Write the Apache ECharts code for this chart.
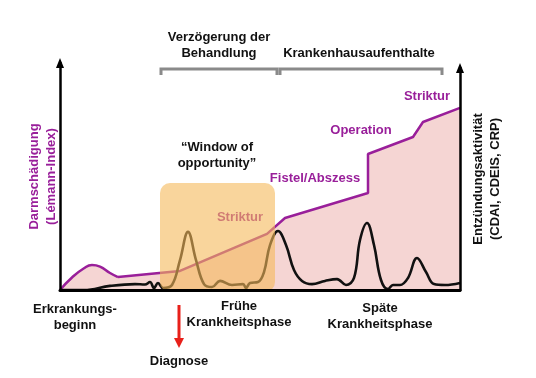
<!DOCTYPE html>
<html>
<head>
<meta charset="utf-8">
<script src="https://cdn.jsdelivr.net/npm/echarts@6/dist/echarts.min.js"></script>
<style>
  html, body { margin: 0; background: #fff; }
  #main { width: 536px; height: 378px; }
</style>
</head>
<body>
<div id="main"></div>
<script>
// Schrift / Farben
const FONT = '"Liberation Sans", Arial, sans-serif';
const PURPLE = '#991f9a';
const PINK = '#f5d5d3';

// Darmschädigung (Lémann-Index), Anfangsbuckel (geglättet)
const damageOnset = [[0, 0], [3, 5.5], [6, 9.6], [8, 11], [10, 10.3], [12.5, 7.5], [14.5, 5.7]];
// Darmschädigung, weiterer Verlauf (gerade Abschnitte)
const damageCourse = [[14.5, 5.7], [30, 8.4], [51.75, 24.7], [56.25, 31.7], [77, 42.7], [77, 59.9], [88.25, 67.4], [90.75, 74], [100, 80.2]];
// Entzündungsaktivität
const activity = [
  [0, 0], [6, 0], [12.5, 1.8], [18.75, 2.6], [21.25, 2.4], [22.5, 3.5], [23.5, 0.9], [24.5, 3.1],
  [25.75, 0.9], [28, 2.2], [30, 13.2], [32, 25.6], [34, 13.2], [36, 2.6], [38, 1.3], [40, 4.0],
  [43, 2.2], [45.75, 2.6], [46.5, 0.9], [47.5, 3.1], [49.5, 3.5], [51, 7.9], [52.5, 19.8],
  [54.5, 26], [56.5, 19.8], [58.5, 8.8], [60.5, 4.0], [63, 2.6], [66.25, 4.0], [69.25, 4.8],
  [71.5, 2.2], [73.5, 5.3], [75, 22], [76.75, 29.5], [78.5, 19.8], [80.25, 4.4], [82, 0.4],
  [83.25, 2.2], [85, 2.2], [87, 5.3], [89.25, 14.1], [91.5, 7.9], [93.5, 2.6], [96.25, 2.2], [100, 3.1]
];
// "Window of opportunity": x von, x bis, Höhe
const windowBox = [25, 53.75, 47.1];

const myChart = echarts.init(document.getElementById('main'));

const hiddenY = {
  min: 0, max: 100,
  axisTick: { show: false }, axisLabel: { show: false }, splitLine: { show: false }
};

const option = {
  animation: false,
  grid: [
    { left: 60, right: 76, top: 63, bottom: 88 },
    { left: 60, right: 76, top: 68, bottom: 88 }
  ],
  xAxis: [
    {
      type: 'value', gridIndex: 0, min: 0, max: 100, z: 30,
      axisLine: { onZero: false, lineStyle: { color: '#000', width: 3 } },
      axisTick: { show: false }, axisLabel: { show: false }, splitLine: { show: false }
    },
    { type: 'value', gridIndex: 1, min: 0, max: 100, show: false }
  ],
  yAxis: [
    Object.assign({}, hiddenY, {
      type: 'value', gridIndex: 0, position: 'left', z: 30,
      axisLine: { show: true, onZero: false, symbol: ['none', 'triangle'], symbolSize: [8, 10], lineStyle: { color: '#000', width: 2.5 } },
      name: 'Darmschädigung\n(Lémann-Index)',
      nameLocation: 'middle', nameRotate: 90, nameGap: 0,
      nameTextStyle: { color: PURPLE, fontFamily: FONT, fontWeight: 'bold', fontSize: 13, lineHeight: 17 }
    }),
    Object.assign({}, hiddenY, {
      type: 'value', gridIndex: 1, position: 'right', z: 30,
      axisLine: { show: true, onZero: false, symbol: ['none', 'triangle'], symbolSize: [8, 10], lineStyle: { color: '#000', width: 2.5 } },
      name: 'Entzündungsaktivität\n(CDAI, CDEIS, CRP)',
      nameLocation: 'middle', nameRotate: 90, nameGap: 10,
      nameTextStyle: { color: '#111', fontFamily: FONT, fontWeight: 'bold', fontSize: 13, lineHeight: 17 }
    })
  ],
  series: [
    {
      type: 'line', data: damageOnset, smooth: 0.5, symbol: 'none',
      lineStyle: { color: PURPLE, width: 2.5 },
      areaStyle: { color: PINK, opacity: 1 }
    },
    {
      type: 'line', data: damageCourse, symbol: 'none',
      lineStyle: { color: PURPLE, width: 2.5 },
      areaStyle: { color: PINK, opacity: 1 }
    },
    {
      type: 'line', data: activity, smooth: 0.4, symbol: 'none', z: 4,
      lineStyle: { color: '#111', width: 2.6 }
    }
  ]
};
myChart.setOption(option);

// Beschriftungen
function label(text, x, y, color, z) {
  return {
    type: 'text', x: x, y: y, z: z || 20,
    style: {
      text: text, fill: color || '#111', font: 'bold 13px ' + FONT,
      align: 'center', verticalAlign: 'middle', lineHeight: 16
    }
  };
}

const p0 = myChart.convertToPixel({ gridIndex: 0 }, [windowBox[0], windowBox[2]]);
const p1 = myChart.convertToPixel({ gridIndex: 0 }, [windowBox[1], 0]);

const bracketStyle = { stroke: '#8a8a8a', lineWidth: 3, fill: null };

myChart.setOption({
  graphic: [
    label('Verzögerung der\nBehandlung', 219, 45),
    label('Krankenhausaufenthalte', 359, 53),
    { type: 'polyline', z: 20, shape: { points: [[161, 75], [161, 69], [277, 69], [277, 75]] }, style: bracketStyle },
    { type: 'polyline', z: 20, shape: { points: [[280, 75], [280, 69], [442, 69], [442, 75]] }, style: bracketStyle },
    label('Striktur', 427, 96, PURPLE),
    label('Operation', 361, 130, PURPLE),
    label('Fistel/Abszess', 315, 178, PURPLE),
    label('“Window of\nopportunity”', 217, 155),
    label('Striktur', 240, 217, PURPLE, 5),
    {
      type: 'rect', z: 10,
      shape: { x: p0[0], y: p0[1], width: p1[0] - p0[0], height: p1[1] - p0[1] + 2, r: 10 },
      style: { fill: 'rgba(245, 185, 90, 0.6)' }
    },
    label('Erkrankungs-\nbeginn', 75, 317),
    label('Frühe\nKrankheitsphase', 239, 314),
    label('Späte\nKrankheitsphase', 380, 316),
    { type: 'line', z: 20, shape: { x1: 179, y1: 305, x2: 179, y2: 339 }, style: { stroke: '#e8201a', lineWidth: 3 } },
    { type: 'polygon', z: 20, shape: { points: [[174, 338], [184, 338], [179, 348]] }, style: { fill: '#e8201a' } },
    label('Diagnose', 179, 361)
  ]
});

window.addEventListener('resize', () => myChart.resize());
</script>
</body>
</html>
